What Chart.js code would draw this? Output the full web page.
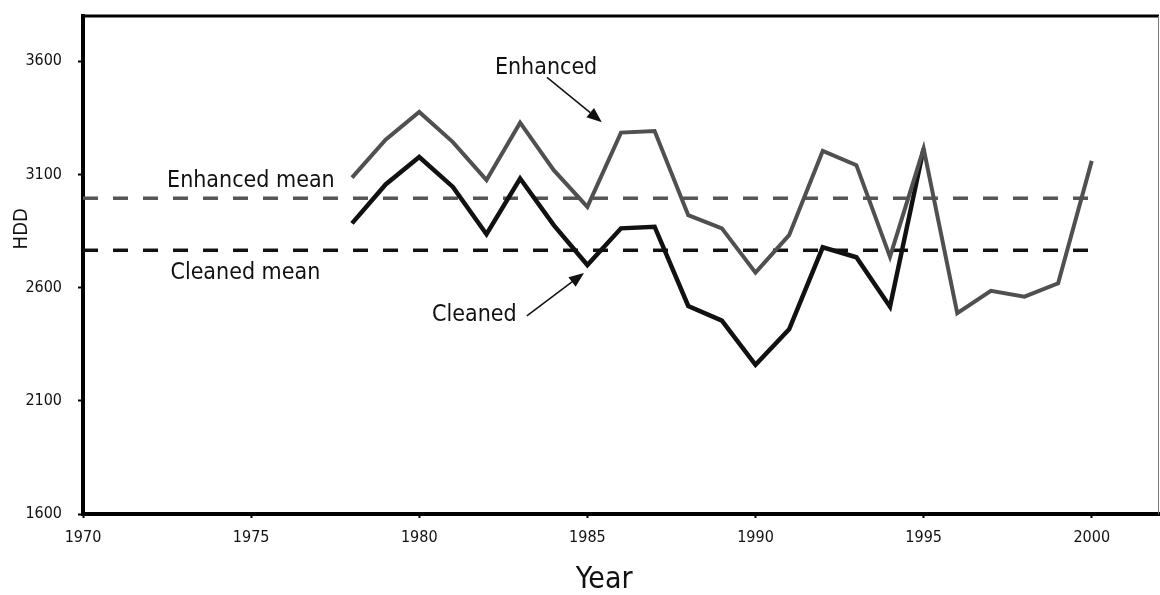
<!DOCTYPE html>
<html>
<head>
<meta charset="utf-8">
<script src="https://cdn.jsdelivr.net/npm/chart.js@4.4.1/dist/chart.umd.min.js"></script>
<style>
  body { margin: 0; background: #fff; }
</style>
</head>
<body>
<canvas id="hddChart" width="1160" height="595"></canvas>
<script>
// values
var years = [1978, 1979, 1980, 1981, 1982, 1983, 1984, 1985, 1986, 1987, 1988, 1989,
             1990, 1991, 1992, 1993, 1994, 1995, 1996, 1997, 1998, 1999, 2000];
var enhanced = [3086, 3254, 3376, 3243, 3075, 3329, 3119, 2957, 3285, 3292, 2920, 2862,
                2666, 2832, 3204, 3141, 2736, 3214, 2487, 2586, 2560, 2619, 3160];
var cleanedYears = [1978, 1979, 1980, 1981, 1982, 1983, 1984, 1985, 1986, 1987, 1988, 1989,
                    1990, 1991, 1992, 1993, 1994, 1995];
var cleaned = [2884, 3056, 3177, 3045, 2836, 3082, 2876, 2700, 2862, 2869, 2519, 2454,
               2259, 2416, 2778, 2734, 2516, 3214];
var meanYears = [1970, 2000];
var enhancedMean = 2995;
var cleanedMean = 2765;
var xTicks = [1970, 1975, 1980, 1985, 1990, 1995, 2000];
var yTicks = [1600, 2100, 2600, 3100, 3600];

var narrow = "'Liberation Sans Narrow', 'DejaVu Sans Condensed', 'Liberation Sans', sans-serif";
Chart.defaults.font.family = narrow;
Chart.defaults.color = '#111';

function pairs(xs, ys) {
  return xs.map(function (x, i) { return {x: x, y: ys[i]}; });
}

var notes = [
  {text: 'Enhanced', x: 1982.25, y: 3542},
  {text: 'Enhanced mean', x: 1972.5, y: 3045},
  {text: 'Cleaned mean', x: 1972.6, y: 2638},
  {text: 'Cleaned', x: 1980.38, y: 2454}
];
var arrows = [
  {from: [1983.8, 3529], to: [1985.43, 3331]},
  {from: [1983.2, 2475], to: [1984.9, 2665]}
];

var decor = {
  id: 'decor',
  afterDatasetsDraw: function (chart) {
    var ctx = chart.ctx, a = chart.chartArea;
    var xs = chart.scales.x, ys = chart.scales.y;
    ctx.save();
    // top frame line and thin right edge
    ctx.strokeStyle = '#000';
    ctx.lineWidth = 3;
    ctx.beginPath();
    ctx.moveTo(a.left - 2, a.top);
    ctx.lineTo(a.right, a.top);
    ctx.stroke();
    ctx.strokeStyle = '#777';
    ctx.lineWidth = 1;
    ctx.beginPath();
    ctx.moveTo(a.right - 0.5, a.top);
    ctx.lineTo(a.right - 0.5, a.bottom);
    ctx.stroke();

    // annotation labels
    ctx.fillStyle = '#111';
    ctx.font = '23px ' + narrow;
    ctx.textBaseline = 'alphabetic';
    ctx.textAlign = 'left';
    notes.forEach(function (n) {
      ctx.fillText(n.text, xs.getPixelForValue(n.x), ys.getPixelForValue(n.y));
    });

    // arrows
    ctx.strokeStyle = '#111';
    ctx.lineWidth = 1.5;
    arrows.forEach(function (ar) {
      var x0 = xs.getPixelForValue(ar.from[0]), y0 = ys.getPixelForValue(ar.from[1]);
      var x1 = xs.getPixelForValue(ar.to[0]), y1 = ys.getPixelForValue(ar.to[1]);
      var ang = Math.atan2(y1 - y0, x1 - x0);
      var len = 15, half = 6;
      var bx = x1 - len * Math.cos(ang), by = y1 - len * Math.sin(ang);
      ctx.beginPath();
      ctx.moveTo(x0, y0);
      ctx.lineTo(bx, by);
      ctx.stroke();
      ctx.beginPath();
      ctx.moveTo(x1, y1);
      ctx.lineTo(bx + half * Math.sin(ang), by - half * Math.cos(ang));
      ctx.lineTo(bx - half * Math.sin(ang), by + half * Math.cos(ang));
      ctx.closePath();
      ctx.fill();
    });

    // axis titles
    ctx.font = '30px ' + narrow;
    ctx.textAlign = 'center';
    ctx.textBaseline = 'middle';
    ctx.fillText('Year', xs.getPixelForValue(1985.5), 580);
    ctx.translate(22, ys.getPixelForValue(2860));
    ctx.rotate(-Math.PI / 2);
    ctx.font = '20px ' + narrow;
    ctx.fillText('HDD', 0, 0);
    ctx.restore();
  }
};

new Chart(document.getElementById('hddChart'), {
  type: 'line',
  data: {
    datasets: [
      {
        label: 'Enhanced',
        data: pairs(years, enhanced),
        borderColor: '#505050',
        borderWidth: 4,
        pointRadius: 0,
        tension: 0,
        order: 1
      },
      {
        label: 'Cleaned',
        data: pairs(cleanedYears, cleaned),
        borderColor: '#111111',
        borderWidth: 4.5,
        pointRadius: 0,
        tension: 0,
        order: 2
      },
      {
        label: 'Enhanced mean',
        data: pairs(meanYears, [enhancedMean, enhancedMean]),
        borderColor: '#555555',
        borderWidth: 3.5,
        borderDash: [15, 15],
        pointRadius: 0,
        order: 3
      },
      {
        label: 'Cleaned mean',
        data: pairs(meanYears, [cleanedMean, cleanedMean]),
        borderColor: '#111111',
        borderWidth: 3.5,
        borderDash: [15, 15],
        pointRadius: 0,
        order: 4
      }
    ]
  },
  options: {
    responsive: false,
    animation: false,
    layout: { padding: { top: 16, right: 1, left: 0, bottom: 0 } },
    plugins: {
      legend: { display: false },
      tooltip: { enabled: false }
    },
    scales: {
      x: {
        type: 'linear',
        min: 1970,
        max: 2002,
        afterFit: function (s) {
          s.height = 81;
          s.paddingLeft = 0;
          s.paddingRight = 0;
        },
        afterBuildTicks: function (s) { s.ticks = xTicks.map(function (v) { return {value: v}; }); },
        ticks: {
          font: { size: 16 },
          color: '#111',
          padding: 10,
          maxRotation: 0,
          callback: function (v) { return String(v); }
        },
        grid: { drawOnChartArea: false, tickLength: 4, tickColor: '#000', tickWidth: 2 },
        border: { color: '#000', width: 4 }
      },
      y: {
        min: 1600,
        max: 3800,
        afterFit: function (s) {
          s.width = 83;
          s.paddingTop = 0;
          s.paddingBottom = 0;
        },
        afterBuildTicks: function (s) { s.ticks = yTicks.map(function (v) { return {value: v}; }); },
        ticks: {
          font: { size: 16 },
          color: '#111',
          padding: 16,
          callback: function (v) { return String(v); }
        },
        grid: { drawOnChartArea: false, tickLength: 5, tickColor: '#000', tickWidth: 2 },
        border: { color: '#000', width: 4 }
      }
    }
  },
  plugins: [decor]
});
</script>
</body>
</html>
